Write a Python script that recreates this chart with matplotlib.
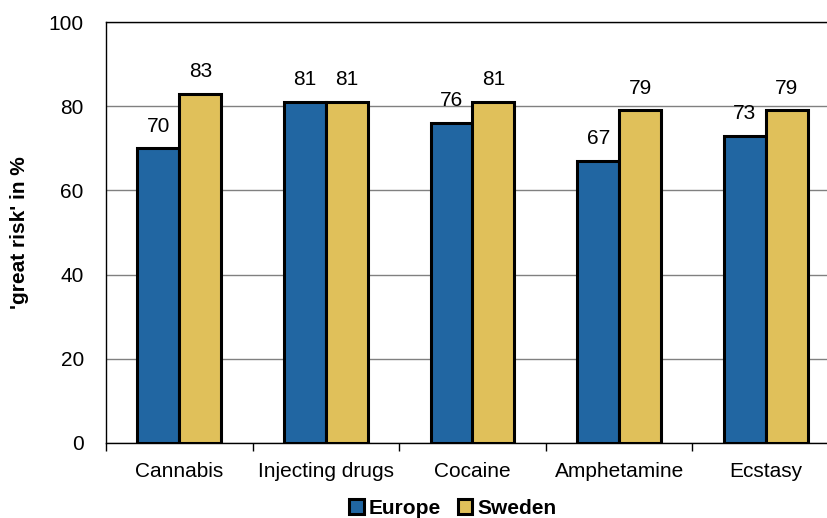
import matplotlib
matplotlib.use("Agg")
import matplotlib.pyplot as plt
import numpy as np

categories = ["Cannabis", "Injecting drugs", "Cocaine", "Amphetamine", "Ecstasy"]
europe = [70, 81, 76, 67, 73]
sweden = [83, 81, 81, 79, 79]
series_names = ["Europe", "Sweden"]
yticks = [0, 20, 40, 60, 80, 100]

plt.rcParams['font.family'] = ['Liberation Sans', 'DejaVu Sans']
FS = 15

fig = plt.figure(figsize=(8.28, 5.18), dpi=100)
ax = fig.add_axes([106/828, 1-443/518, (839-106)/828, (443-22)/518])

x = np.arange(len(categories))
w = 0.286
blue = "#2166a2"
yellow = "#e0c05a"
b1 = ax.bar(x - w/2, europe, w, color=blue, edgecolor="black", linewidth=2.2, zorder=3, label=series_names[0])
b2 = ax.bar(x + w/2, sweden, w, color=yellow, edgecolor="black", linewidth=2.2, zorder=3, label=series_names[1])

for xi, v in zip(x - w/2, europe):
    ax.text(xi, v + 3.0, str(v), ha="center", va="bottom", fontsize=FS)
for xi, v in zip(x + w/2, sweden):
    ax.text(xi, v + 3.0, str(v), ha="center", va="bottom", fontsize=FS)

ax.set_xlim(-0.5, len(categories) - 0.5)
ax.set_ylim(0, 100)
ax.set_yticks(yticks)
ax.set_yticklabels([str(t) for t in yticks], fontsize=FS)
ax.tick_params(axis="y", length=0, pad=16)
ax.set_xticks(np.arange(len(categories) + 1) - 0.5)
ax.set_xticklabels([])
ax.set_xticks(x, minor=True)
ax.set_xticklabels(categories, minor=True, fontsize=FS)
ax.tick_params(axis="x", which="major", length=6, color="black", width=1)
ax.tick_params(axis="x", which="minor", length=0, pad=14)

ax.yaxis.grid(True, color="#808080", linewidth=1, zorder=0)
ax.spines["right"].set_visible(False)
for s in ["left", "bottom", "top"]:
    ax.spines[s].set_color("black")
    ax.spines[s].set_linewidth(1)

ax.set_ylabel("'great risk' in %", fontsize=FS, fontweight="bold", labelpad=14)

leg = fig.legend(handles=[b1, b2], labels=series_names, loc="center", bbox_to_anchor=(453/828, 1-508/518),
                 ncol=2, frameon=False, prop={"weight": "bold", "size": FS},
                 handlelength=0.7, handleheight=0.7, handletextpad=0.25, columnspacing=0.8)

fig.savefig("out.png", dpi=100)
